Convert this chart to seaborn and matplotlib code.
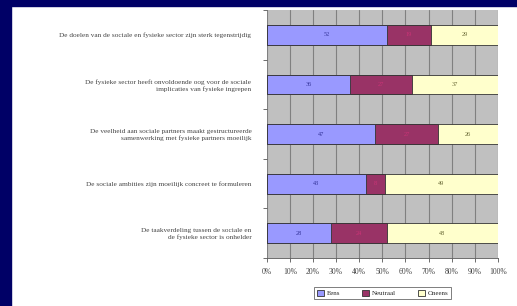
import numpy as np
import pandas as pd
import seaborn as sns
import matplotlib.pyplot as plt
from matplotlib.patches import Rectangle, Patch
from matplotlib.ticker import FixedLocator

# stellingen (van boven naar beneden)
stellingen = [
    'De doelen van de sociale en fysieke sector zijn sterk tegenstrijdig',
    'De fysieke sector heeft onvoldoende oog voor de sociale\nimplicaties van fysieke ingrepen',
    'De veelheid aan sociale partners maakt gestructureerde\nsamenwerking met fysieke partners moeilijk',
    'De sociale ambities zijn moeilijk concreet te formuleren',
    'De taakverdeling tussen de sociale en\nde fysieke sector is onhelder',
]
eens = [52, 36, 47, 43, 28]
neutraal = [19, 27, 27, 8, 24]
oneens = [29, 37, 26, 49, 48]
reeksen = ['Eens', 'Neutraal', 'Oneens']
kleuren = ['#9999ff', '#993366', '#ffffcc']
tekstkleuren = ['#333399', '#cc3377', '#666633']

df = pd.DataFrame({'stelling': stellingen, 'Eens': eens, 'Neutraal': neutraal, 'Oneens': oneens})
df['cum1'] = df['Eens']
df['cum2'] = df['Eens'] + df['Neutraal']
df['cum3'] = df['cum2'] + df['Oneens']

sns.set_style('white')
plt.rcParams['font.family'] = ['Liberation Serif', 'DejaVu Serif']

fig = plt.figure(figsize=(5.17, 3.06), dpi=100)
fig.patch.set_facecolor('white')
# donkerblauwe rand links en boven
fig.patches.append(Rectangle((0, 0), 11 / 517, 1, transform=fig.transFigure, color='#000066', zorder=0))
fig.patches.append(Rectangle((0, 1 - 6 / 306), 1, 6 / 306, transform=fig.transFigure, color='#000066', zorder=0))

ax = fig.add_axes([0.516, 0.157, 0.447, 0.81])
ax.set_facecolor('#c0c0c0')

# gestapelde balken: eerst totaal, dan cumulatief eroverheen
for kol, kleur in zip(['cum3', 'cum2', 'cum1'], kleuren[::-1]):
    sns.barplot(data=df, x=kol, y='stelling', orient='h', color=kleur, width=0.4,
                edgecolor='#333333', linewidth=0.6, saturation=1, ax=ax, zorder=3)

# waarden in de segmenten
for i, row in df.iterrows():
    start = 0
    for naam, tk in zip(reeksen, tekstkleuren):
        v = row[naam]
        ax.text(start + v / 2, i, str(v), ha='center', va='center', fontsize=4.5, color=tk, zorder=4)
        start += v

ax.set_xlim(0, 100)
ax.set_ylim(4.5, -0.5)
ax.xaxis.set_major_locator(FixedLocator(np.arange(0, 101, 10)))
ax.set_xticklabels([f'{t}%' for t in range(0, 101, 10)], fontsize=5.5)
ax.set_yticks(range(len(stellingen)))
ax.set_yticklabels(stellingen, fontsize=5.2, color='#444444')
ax.yaxis.set_minor_locator(FixedLocator(np.arange(-0.5, 5, 1)))
ax.tick_params(axis='y', which='major', length=0, pad=11)
ax.tick_params(axis='y', which='minor', length=3, color='#555555', width=0.6, left=True)
ax.tick_params(axis='x', length=3, color='#555555', width=0.6, bottom=True, pad=4, labelcolor='#444444')
ax.grid(axis='x', color='#808080', linewidth=0.8, zorder=0)
ax.set_axisbelow(True)
ax.set_xlabel('')
ax.set_ylabel('')
for s in ax.spines.values():
    s.set_visible(False)
ax.spines['bottom'].set_visible(True)
ax.spines['bottom'].set_color('#555555')
ax.spines['bottom'].set_linewidth(0.6)

handles = [Patch(facecolor=k, edgecolor='#333333', linewidth=0.6) for k in kleuren]
leg = fig.legend(handles, reeksen, loc='center', bbox_to_anchor=(0.74, 0.042), ncol=3,
                 fontsize=5, frameon=True, fancybox=False, edgecolor='#444444',
                 handlelength=1.0, handleheight=1.0, handletextpad=0.4, columnspacing=3.2,
                 borderpad=0.4)
leg.get_frame().set_linewidth(0.6)

fig.savefig('out.png', dpi=100)
